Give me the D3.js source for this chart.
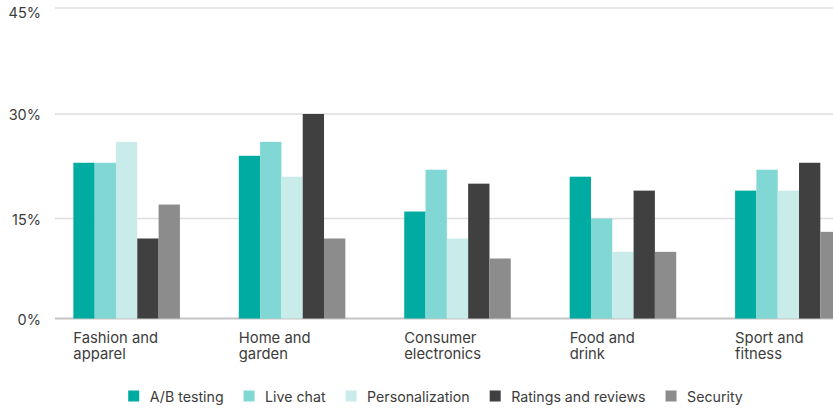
<!DOCTYPE html>
<html>
<head>
<meta charset="utf-8">
<script src="https://cdn.jsdelivr.net/npm/d3@7"></script>
<style>
  html, body { margin: 0; padding: 0; background: #fff; }
  svg { display: block; font-family: Inter, "Open Sans", sans-serif; }
</style>
</head>
<body>
<svg id="chart" width="833" height="412"></svg>
<script>
// ---- data ----
const categories = [["Fashion and", "apparel"], ["Home and", "garden"], ["Consumer", "electronics"], ["Food and", "drink"], ["Sport and", "fitness"]];
const seriesNames = ["A/B testing", "Live chat", "Personalization", "Ratings and reviews", "Security"];
const abTesting       = [23, 24, 16, 21, 19];
const liveChat        = [23, 26, 22, 15, 22];
const personalization = [26, 21, 12, 10, 19];
const ratingsReviews  = [12, 30, 20, 19, 23];
const security        = [17, 12,  9, 10, 13];
const yTicks = [0, 15, 30, 45];
const colors = ["#00aba1", "#80d7d4", "#c9eceb", "#404040", "#8c8c8c"];

const seriesValues = [abTesting, liveChat, personalization, ratingsReviews, security];
const catKeys = categories.map(c => c.join(" "));

const svg = d3.select("#chart");

const y = d3.scaleLinear().domain(yTicks).range([318.5, 218.5, 114, 8]);
const x0 = d3.scaleBand().domain(catKeys).range([55, 860]).paddingInner(0.356).paddingOuter(0.111);
const x1 = d3.scaleBand().domain(seriesNames).range([0, x0.bandwidth()]).padding(0);

// gridlines
const grid = svg.append("g");
grid.selectAll("line").data(yTicks).join("line")
  .attr("x1", 55).attr("x2", 833)
  .attr("y1", d => y(d)).attr("y2", d => y(d))
  .attr("stroke", d => d === 0 ? "#c4c4c4" : "#dedede")
  .attr("stroke-width", d => d === 0 ? 2 : 1.5);

// y tick labels
svg.append("g").selectAll("text").data(yTicks).join("text")
  .attr("x", 41).attr("y", d => y(d) + (d === 45 ? 4.5 : 0.5))
  .attr("text-anchor", "end").attr("dominant-baseline", "central")
  .attr("font-size", 14.5).attr("fill", "#3c3c3c")
  .text(d => d + "%");

// bars
const groups = svg.append("g").selectAll("g").data(catKeys).join("g")
  .attr("transform", d => `translate(${x0(d)},0)`);
groups.selectAll("rect")
  .data((d, i) => seriesNames.map((s, j) => ({ s, v: seriesValues[j][i], c: colors[j] })))
  .join("rect")
  .attr("x", d => x1(d.s))
  .attr("width", x1.bandwidth())
  .attr("y", d => y(d.v))
  .attr("height", d => y(0) - y(d.v))
  .attr("fill", d => d.c);

// category labels
const catLabels = svg.append("g").selectAll("text").data(categories).join("text")
  .attr("x", (d, i) => x0(catKeys[i]))
  .attr("y", 343)
  .attr("font-size", 14.8).attr("fill", "#3c3c3c");
catLabels.selectAll("tspan").data(d => d).join("tspan")
  .attr("x", function () { return this.parentNode.getAttribute("x"); })
  .attr("dy", (d, i) => i === 0 ? 0 : 16)
  .text(d => d);

// legend
const legend = svg.append("g");
const items = legend.selectAll("g").data(seriesNames).join("g");
items.append("rect").attr("width", 11).attr("height", 11).attr("y", -5.5)
  .attr("fill", (d, i) => colors[i]);
items.append("text").attr("x", 21.5).attr("dominant-baseline", "central")
  .attr("font-size", 14.2).attr("fill", "#3c3c3c").text(d => d);
let cx = 0;
items.each(function () {
  const w = this.querySelector("text").getComputedTextLength();
  d3.select(this).attr("transform", `translate(${cx},0)`);
  cx += 21.5 + w + 20;
});
const totalW = cx - 20;
legend.attr("transform", `translate(${435.5 - totalW / 2},396)`);
</script>
</body>
</html>
